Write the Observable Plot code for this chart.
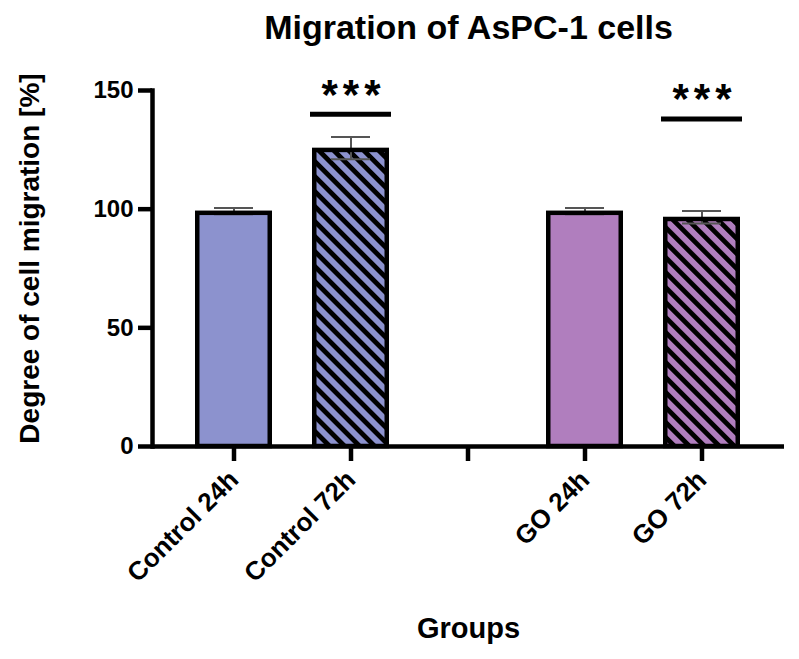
<!DOCTYPE html>
<html><head><meta charset="utf-8">
<script src="https://cdn.jsdelivr.net/npm/d3@7"></script>
<script src="https://cdn.jsdelivr.net/npm/@observablehq/plot@0.6"></script>
<style>body{margin:0;background:#fff;} #chart svg{font-family:"Liberation Sans", Arial, sans-serif;font-weight:bold;}</style>
</head><body><div id="chart"></div>
<script>
const xDomain = ["Control 24h", "Control 72h", "", "GO 24h", "GO 72h"];
const barGroups = ["Control 24h", "Control 72h", "GO 24h", "GO 72h"];
const treatments = ["Control", "Control", "GO", "GO"];
const means = [99.2, 125.7, 99.2, 96.6];
const errors = [1.3, 4.7, 1.3, 2.6];
const hatched = [false, true, false, true];
const sigGroups = ["Control 72h", "GO 72h"];
const sigY = [140, 138];
const sigLabels = ["***", "***"];
const yTicks = [0, 50, 100, 150];
const colorDomain = ["Control", "GO"];
const colorRange = ["#8C92CE", "#B07EBE"];

const data = barGroups.map((g, i) => ({group: g, mean: means[i], err: errors[i], treatment: treatments[i], hatched: hatched[i]}));
const sig = sigGroups.map((g, i) => ({group: g, y: sigY[i], label: sigLabels[i]}));

const ins = 2.25;
const plot = Plot.plot({
  width: 799, height: 659,
  marginLeft: 152, marginRight: 15, marginTop: 90, marginBottom: 213,
  style: {fontFamily: "Liberation Sans, Arial, sans-serif", fontWeight: "bold", background: "white", color: "black"},
  x: {type: "band", domain: xDomain, paddingInner: 0.34, paddingOuter: 0.348, label: null},
  y: {domain: [0, 150], label: null},
  color: {domain: colorDomain, range: colorRange},
  marks: [
    Plot.barY(data, {x: "group", y: "mean", fill: "treatment", insetTop: ins, insetLeft: ins, insetRight: ins}),
    Plot.barY(data.filter(d => d.hatched), {x: "group", y: "mean", fill: "url(#hatch)", insetTop: ins, insetLeft: ins, insetRight: ins}),
    Plot.ruleX(data, {x: "group", y1: d => d.mean - d.err, y2: d => d.mean + d.err, stroke: "#555", strokeWidth: 2}),
    Plot.tickY(data, {x: "group", y: d => d.mean + d.err, stroke: "#555", strokeWidth: 2, insetLeft: 19, insetRight: 19}),
    Plot.tickY(data, {x: "group", y: d => d.mean - d.err, stroke: "#555", strokeWidth: 2, insetLeft: 19, insetRight: 19}),
    Plot.barY(data, {x: "group", y: "mean", fill: "none", stroke: "black", strokeWidth: 4.5, insetTop: ins, insetLeft: ins, insetRight: ins}),
    Plot.ruleY([0], {stroke: "black", strokeWidth: 4.5}),
    Plot.frame({anchor: "left", stroke: "black", strokeWidth: 4.5}),
    Plot.axisY({ticks: yTicks, tickSize: 14, tickPadding: 5, strokeWidth: 4.5, fontSize: 24, fontWeight: "bold", tickFormat: d => d, label: null}),
    Plot.axisX({tickSize: 15, tickRotate: -45, tickPadding: 14, strokeWidth: 4.5, fontSize: 26, fontWeight: "bold", label: null}),
    Plot.tickY(sig, {x: "group", y: "y", stroke: "black", strokeWidth: 5, insetLeft: -2, insetRight: -2}),
    Plot.text(sig, {x: "group", y: "y", text: "label", dy: -19, fontSize: 42, fontWeight: "bold"}),
    Plot.text(["Migration of AsPC-1 cells"], {frameAnchor: "top", lineAnchor: "middle", textAnchor: "middle", text: d => d, dy: -62, fontSize: 34, fontWeight: "bold"}),
    Plot.text(["Degree of cell migration [%]"], {frameAnchor: "left", lineAnchor: "middle", textAnchor: "middle", text: d => d, rotate: -90, dx: -122, dy: -10, fontSize: 28, fontWeight: "bold"}),
    Plot.text(["Groups"], {frameAnchor: "bottom", lineAnchor: "middle", textAnchor: "middle", text: d => d, dy: 182, fontSize: 29, fontWeight: "bold"})
  ]
});

const svg = d3.select(plot);
const defs = svg.insert("defs", ":first-child");
const pat = defs.append("pattern").attr("id", "hatch").attr("patternUnits", "userSpaceOnUse")
  .attr("width", 10.6).attr("height", 10.6).attr("patternTransform", "rotate(-45)");
pat.append("rect").attr("x", 0).attr("y", 0).attr("width", 4.8).attr("height", 10.6).attr("fill", "black");
svg.selectAll("text").filter(function() { return this.textContent === "***"; })
  .style("letter-spacing", "5px").attr("dx", 2.5);

document.getElementById("chart").appendChild(plot);
</script>
</body></html>
